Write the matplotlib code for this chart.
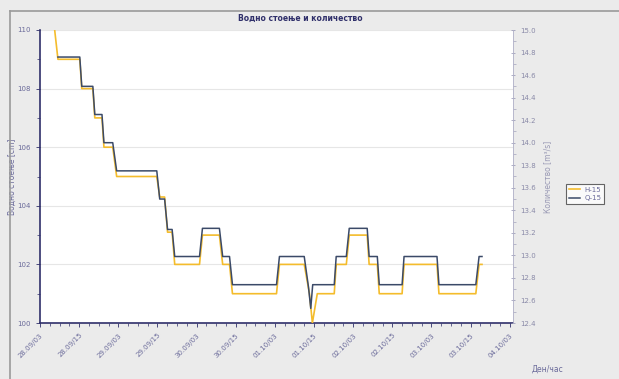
import matplotlib.pyplot as plt
import numpy as np
from matplotlib.ticker import MultipleLocator

# hours from start of the period
t_h = [4.3, 5.5, 12.2, 12.8, 16.2, 16.8, 19.0, 19.6, 22.3, 23.5, 35.8, 36.7, 38.2, 39.1,
       40.5, 41.3, 48.9, 49.8, 55.0, 56.0, 58.1, 59.0, 72.5, 73.4, 81.0, 82.6, 83.5,
       85.0, 90.2, 90.8, 93.9, 94.8, 100.3, 100.9, 103.4, 104.0, 111.0, 111.6, 121.7,
       122.3, 133.6, 134.6, 135.5]
h_15 = [110.2, 109.0, 109.0, 108.0, 108.0, 107.0, 107.0, 106.0, 106.0, 105.0, 105.0, 104.3,
        104.3, 103.1, 103.1, 102.0, 102.0, 103.0, 103.0, 102.0, 102.0, 101.0, 101.0, 102.0,
        102.0, 101.0, 100.0, 101.0, 101.0, 102.0, 102.0, 103.0, 103.0, 102.0, 102.0, 101.0,
        101.0, 102.0, 102.0, 101.0, 101.0, 102.0, 102.0]

t_q = [5.5, 12.2, 12.8, 16.2, 16.8, 19.0, 19.6, 22.3, 23.5, 35.8, 36.7, 38.2, 39.1,
       40.5, 41.3, 48.9, 49.8, 55.0, 56.0, 58.1, 59.0, 72.5, 73.4, 81.0, 82.3, 83.0, 83.6,
       85.0, 90.2, 90.8, 93.9, 94.8, 100.3, 100.9, 103.4, 104.0, 111.0, 111.6, 121.7,
       122.3, 133.6, 134.6, 135.5]
q_15 = [14.76, 14.76, 14.50, 14.50, 14.25, 14.25, 14.00, 14.00, 13.75, 13.75, 13.50, 13.50,
        13.23, 13.23, 12.99, 12.99, 13.24, 13.24, 12.99, 12.99, 12.74, 12.74, 12.99, 12.99,
        12.72, 12.53, 12.74, 12.74, 12.74, 12.99, 12.99, 13.24, 13.24, 12.99, 12.99, 12.74,
        12.74, 12.99, 12.99, 12.74, 12.74, 12.99, 12.99]

tick_labels = ['28.09/03', '28.09/15', '29.09/03', '29.09/15', '30.09/03', '30.09/15',
               '01.10/03', '01.10/15', '02.10/03', '02.10/15', '03.10/03', '03.10/15',
               '04.10/03']

navy = '#2f2f6a'
lab_col = '#6a6a9a'

fig = plt.figure(figsize=(6.19, 3.79), dpi=100, facecolor='#ebebeb')
ax = fig.add_axes([40 / 619, 1 - 323 / 379, 473 / 619, 293 / 379])
ax.set_facecolor('white')
ax2 = ax.twinx()

ax.plot(t_h, h_15, color='#f4bc2c', lw=1.2, label='H-15', zorder=3)
ax2.plot(t_q, q_15, color='#3b4a68', lw=1.1, label='Q-15', zorder=3)

ax.set_xlim(0, 145)
ax.set_ylim(100, 110)
ax2.set_ylim(12.4, 15.0)

ax.set_xticks(np.arange(len(tick_labels)) * 12)
ax.set_xticklabels(tick_labels, rotation=45, ha='right', rotation_mode='anchor',
                   fontsize=5, color=lab_col)
ax.xaxis.set_minor_locator(MultipleLocator(3))
ax.yaxis.set_major_locator(MultipleLocator(2))
ax.yaxis.set_minor_locator(MultipleLocator(1))
ax2.yaxis.set_minor_locator(MultipleLocator(0.1))
ax.set_yticklabels([f'{v:g}' for v in ax.get_yticks()])
ax2.set_yticks(np.arange(12.4, 15.01, 0.2))
ax2.set_yticklabels([f'{v:.1f}' for v in np.arange(12.4, 15.01, 0.2)])

ax.tick_params(axis='both', which='major', labelsize=5, colors=navy, labelcolor=lab_col,
               length=3, width=0.6)
ax.tick_params(axis='both', which='minor', colors=navy, length=2, width=0.5)
ax2.tick_params(axis='y', which='major', labelsize=5, colors='#9090b0', labelcolor='#8a8aa8',
                length=3, width=0.5, direction='inout')
ax2.tick_params(axis='y', which='minor', colors='#9090b0', length=2, width=0.4)

ax.grid(axis='y', color='#e6e6e6', lw=0.8)
ax.set_axisbelow(True)
for s in ['left', 'bottom']:
    ax.spines[s].set_color(navy)
    ax.spines[s].set_linewidth(1.2)
ax.spines['top'].set_visible(False)
ax2.spines['top'].set_visible(False)
ax2.spines['right'].set_color('#b0b0c8')
ax2.spines['right'].set_linewidth(0.6)
ax2.spines['left'].set_visible(False)
ax2.spines['bottom'].set_visible(False)
ax.spines['right'].set_visible(False)

ax.set_ylabel('Водно стоење [cm]', fontsize=5.5, color=lab_col)
ax.yaxis.set_label_coords(-23 / 473, 0.5)
ax2.set_ylabel('Количество [m³/s]', fontsize=5.5, color='#9a9ab5')
ax2.yaxis.set_label_coords(1 + 30 / 473, 0.5)
fig.text(548 / 619, 1 - 369 / 379, 'Ден/час', fontsize=5.5, color=lab_col,
         ha='center', va='center')
fig.text(300 / 619, 1 - 18 / 379, 'Водно стоење и количество', fontsize=5.5,
         fontweight='bold', color=navy, ha='center', va='center')

# panel border lines
fig.add_artist(plt.Line2D([10 / 619, 1], [1 - 11 / 379, 1 - 11 / 379], color='#9a9a9a', lw=1.2))
fig.add_artist(plt.Line2D([10 / 619, 10 / 619], [0, 1 - 11 / 379], color='#9a9a9a', lw=1.2))

h1, l1 = ax.get_legend_handles_labels()
h2, l2 = ax2.get_legend_handles_labels()
leg = fig.legend(h1 + h2, l1 + l2, loc='center', bbox_to_anchor=(585 / 619, 1 - 194 / 379),
                 fontsize=5, frameon=True, fancybox=False, handlelength=1.6,
                 borderpad=0.4, labelspacing=0.4, handletextpad=0.6)
leg.get_frame().set_edgecolor('#404040')
leg.get_frame().set_linewidth(0.8)
for txt in leg.get_texts():
    txt.set_color(lab_col)

fig.savefig('out.png', dpi=100, facecolor=fig.get_facecolor())
